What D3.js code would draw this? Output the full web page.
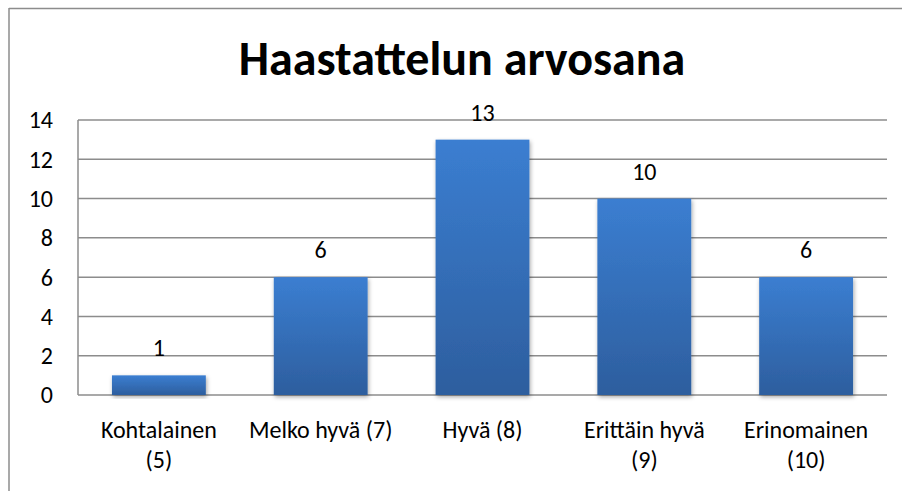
<!DOCTYPE html>
<html lang="fi">
<head>
	<meta charset="utf-8">
	<title>Haastattelun arvosana</title>
	<style>
	body { margin: 0; background: #fff; }
	svg text { font-family: Carlito, Calibri, Lato, sans-serif; fill: #000; }
	.grid line { stroke: #8c8c8c; stroke-width: 1.5; }
	</style>
</head>
<body>
	<svg width="902" height="491"></svg>
	<script src="https://d3js.org/d3.v7.min.js"></script>
	<script>

	// data
	var categories = ["Kohtalainen (5)", "Melko hyvä (7)", "Hyvä (8)", "Erittäin hyvä (9)", "Erinomainen (10)"];
	var labelLines = [["Kohtalainen", "(5)"], ["Melko hyvä (7)"], ["Hyvä (8)"], ["Erittäin hyvä", "(9)"], ["Erinomainen", "(10)"]];
	var counts = [1, 6, 13, 10, 6];
	var yTicks = [0, 2, 4, 6, 8, 10, 12, 14];

	var svg = d3.select("svg"),
		width = +svg.attr("width"),
		height = +svg.attr("height");

	var margin = {left: 78, right: 15, top: 120, bottom: 96};

	var x = d3.scaleBand()
		.domain(categories)
		.range([margin.left, width - margin.right])
		.paddingInner(0.42)
		.paddingOuter(0.21);

	var y = d3.scaleLinear()
		.domain([0, 14])
		.range([height - margin.bottom, margin.top]);

	var defs = svg.append("defs");
	var grad = defs.append("linearGradient")
		.attr("id", "barGrad")
		.attr("x1", 0).attr("y1", 0).attr("x2", 0).attr("y2", 1);
	grad.append("stop").attr("offset", "0%").attr("stop-color", "#3b7ed1");
	grad.append("stop").attr("offset", "100%").attr("stop-color", "#2d5e9e");

	var shadow = defs.append("filter")
		.attr("id", "shadow")
		.attr("x", "-20%").attr("y", "-20%").attr("width", "140%").attr("height", "140%");
	shadow.append("feDropShadow")
		.attr("dx", 1).attr("dy", 2).attr("stdDeviation", 2)
		.attr("flood-color", "#000").attr("flood-opacity", 0.35);

	// outer frame (only top and left edges show)
	svg.append("line")
		.attr("x1", 9).attr("x2", width).attr("y1", 8.5).attr("y2", 8.5)
		.attr("stroke", "#8c8c8c").attr("stroke-width", 1.5);
	svg.append("line")
		.attr("x1", 9).attr("x2", 9).attr("y1", 8).attr("y2", height)
		.attr("stroke", "#8c8c8c").attr("stroke-width", 1.5);

	svg.append("text")
		.attr("x", 462)
		.attr("y", 75)
		.attr("text-anchor", "middle")
		.style("font-size", "48px")
		.style("font-weight", "bold")
		.text("Haastattelun arvosana");

	// gridlines
	svg.append("g")
		.attr("class", "grid")
		.selectAll("line")
		.data(yTicks)
		.enter().append("line")
		  .attr("x1", margin.left)
		  .attr("x2", width - margin.right)
		  .attr("y1", function(d) { return y(d); })
		  .attr("y2", function(d) { return y(d); });

	// y axis line
	svg.append("line")
		.attr("x1", margin.left).attr("x2", margin.left)
		.attr("y1", y(14)).attr("y2", y(0))
		.attr("stroke", "#8c8c8c").attr("stroke-width", 1.5);

	var yAxis = svg.append("g")
		.attr("transform", "translate(" + margin.left + ",0)")
		.call(d3.axisLeft(y).tickValues(yTicks).tickSize(0).tickPadding(25));
	yAxis.select(".domain").remove();
	yAxis.selectAll("text")
		.style("font-size", "24px")
		.attr("dy", "0.33em");

	svg.append("g")
		.selectAll("rect")
		.data(counts)
		.enter().append("rect")
		  .attr("x", function(d, i) { return x(categories[i]); })
		  .attr("y", function(d) { return y(d); })
		  .attr("width", x.bandwidth())
		  .attr("height", function(d) { return y(0) - y(d); })
		  .attr("fill", "url(#barGrad)")
		  .attr("filter", "url(#shadow)");

	svg.append("g")
		.selectAll("text")
		.data(counts)
		.enter().append("text")
		  .attr("x", function(d, i) { return x(categories[i]) + x.bandwidth() / 2; })
		  .attr("y", function(d) { return y(d) - 19; })
		  .attr("text-anchor", "middle")
		  .style("font-size", "24px")
		  .text(function(d) { return d; });

	// category labels
	var catG = svg.append("g")
		.selectAll("text")
		.data(categories)
		.enter().append("text")
		  .attr("text-anchor", "middle")
		  .style("font-size", "24px")
		  .attr("transform", function(d) { return "translate(" + (x(d) + x.bandwidth() / 2) + ",438)"; });
	catG.selectAll("tspan")
		.data(function(d, i) { return labelLines[i]; })
		.enter().append("tspan")
		  .attr("x", 0)
		  .attr("dy", function(d, i) { return i === 0 ? 0 : 30; })
		  .text(function(d) { return d; });

	</script>
</body>
</html>
